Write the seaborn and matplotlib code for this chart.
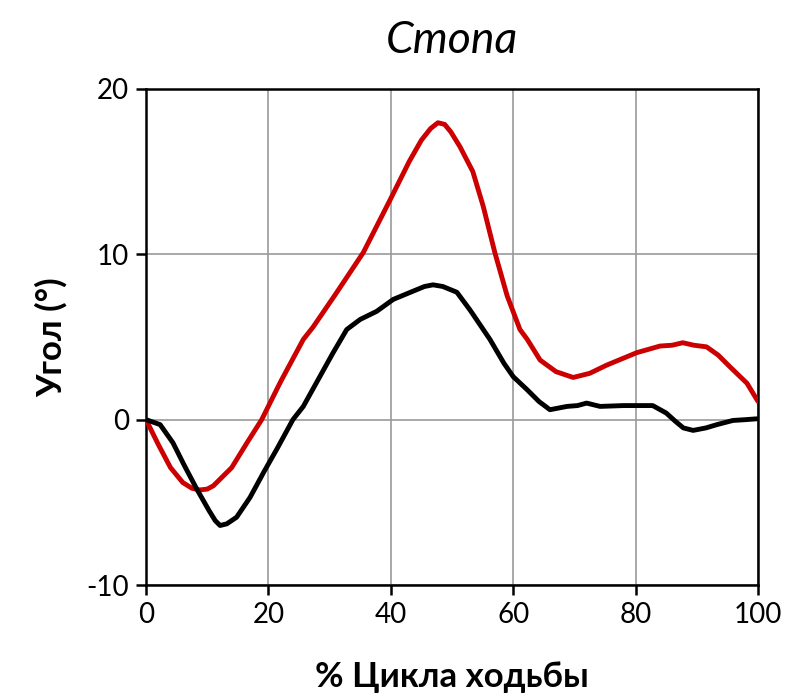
import matplotlib
matplotlib.use("Agg")
import matplotlib.pyplot as plt
import seaborn as sns
import pandas as pd

# Red curve (x = % gait cycle, y = angle)
red_x = [0, 2, 4, 6, 7.5, 8.8, 10, 11, 14, 16.5, 18.9, 22, 25.7, 27.3, 31, 35.5, 39.9, 43, 45,
         46.5, 47.7, 48.8, 49.8, 51.3, 53.4, 55.1, 57.0, 59.0, 61.1, 62.3, 64.4, 67, 69.8,
         72.5, 75.3, 80.2, 84, 86, 87.7, 89.5, 91.6, 93.5, 95.4, 98.2, 100]
red_y = [0, -1.5, -2.9, -3.8, -4.15, -4.25, -4.2, -4.0, -2.9, -1.4, 0.0, 2.3, 4.85, 5.6, 7.6,
         10.1, 13.3, 15.6, 16.9, 17.6, 17.95, 17.85, 17.4, 16.5, 15.0, 12.9, 10.1, 7.5, 5.45,
         4.85, 3.6, 2.9, 2.55, 2.8, 3.3, 4.05, 4.45, 4.5, 4.65, 4.5, 4.4, 3.9, 3.2, 2.2, 1.1]

# Black curve
blk_x = [0, 2.3, 4.4, 6.3, 8.3, 10.3, 11.3, 12.1, 13.2, 14.8, 17, 19.2, 21.5, 24, 25.7, 28.4,
         30.5, 32.8, 35, 37.7, 40.4, 43.6, 45.5, 46.9, 48.5, 50.8, 53, 56.2, 58.5, 60, 62.3,
         64.2, 66, 68.8, 70.5, 72, 74.2, 78, 82.8, 85, 86.5, 87.8, 89.4, 91.5, 93.3, 95.9, 98,
         99.8]
blk_y = [0, -0.3, -1.4, -2.8, -4.2, -5.5, -6.1, -6.4, -6.3, -5.9, -4.7, -3.2, -1.7, 0.0, 0.8,
         2.6, 4.0, 5.45, 6.06, 6.55, 7.27, 7.76, 8.05, 8.15, 8.05, 7.7, 6.6, 4.85, 3.4, 2.6,
         1.8, 1.1, 0.6, 0.8, 0.85, 1.0, 0.8, 0.85, 0.85, 0.4, -0.1, -0.5, -0.65, -0.5, -0.3,
         -0.05, 0.0, 0.05]

x_ticks = [0, 20, 40, 60, 80, 100]
y_ticks = [-10, 0, 10, 20]
y_tick_labels = ["-10", "0", "10", "20"]
title = "Стопа"
xlabel = "% Цикла ходьбы"
ylabel = "Угол (°)"

sns.set_theme(style="white")
plt.rcParams["font.family"] = ["Lato", "DejaVu Sans"]
plt.rcParams["text.color"] = "black"
plt.rcParams["axes.labelcolor"] = "black"
plt.rcParams["xtick.color"] = "black"
plt.rcParams["ytick.color"] = "black"

fig = plt.figure(figsize=(8.05, 6.94), dpi=100)
ax = fig.add_axes([0.1814, 0.157, 0.7602, 0.715])

df_red = pd.DataFrame({"x": red_x, "y": red_y})
df_blk = pd.DataFrame({"x": blk_x, "y": blk_y})
sns.lineplot(data=df_red, x="x", y="y", ax=ax, color="#cc0000", linewidth=3.5, sort=False,
             zorder=3, solid_joinstyle="round", solid_capstyle="round")
sns.lineplot(data=df_blk, x="x", y="y", ax=ax, color="#000000", linewidth=3.5, sort=False,
             zorder=4, solid_joinstyle="round", solid_capstyle="round")

ax.set_xlim(0, 100)
ax.set_ylim(-10, 20)
ax.set_xticks(x_ticks)
ax.set_yticks(y_ticks)
ax.set_yticklabels(y_tick_labels)
ax.grid(True, color="#999999", linewidth=1.2)
ax.set_axisbelow(True)
for s in ax.spines.values():
    s.set_visible(True)
    s.set_color("black")
    s.set_linewidth(1.8)
ax.tick_params(axis="both", direction="out", length=7, width=1.8, color="black",
               labelsize=20, pad=5, bottom=True, left=True)

ax.set_xlabel(xlabel, fontsize=25, fontweight="bold", labelpad=24)
ax.set_ylabel(ylabel, fontsize=25, fontweight="bold", labelpad=14)
ax.set_title(title, fontsize=32, style="italic", pad=26)

fig.savefig("out.png", dpi=100)
